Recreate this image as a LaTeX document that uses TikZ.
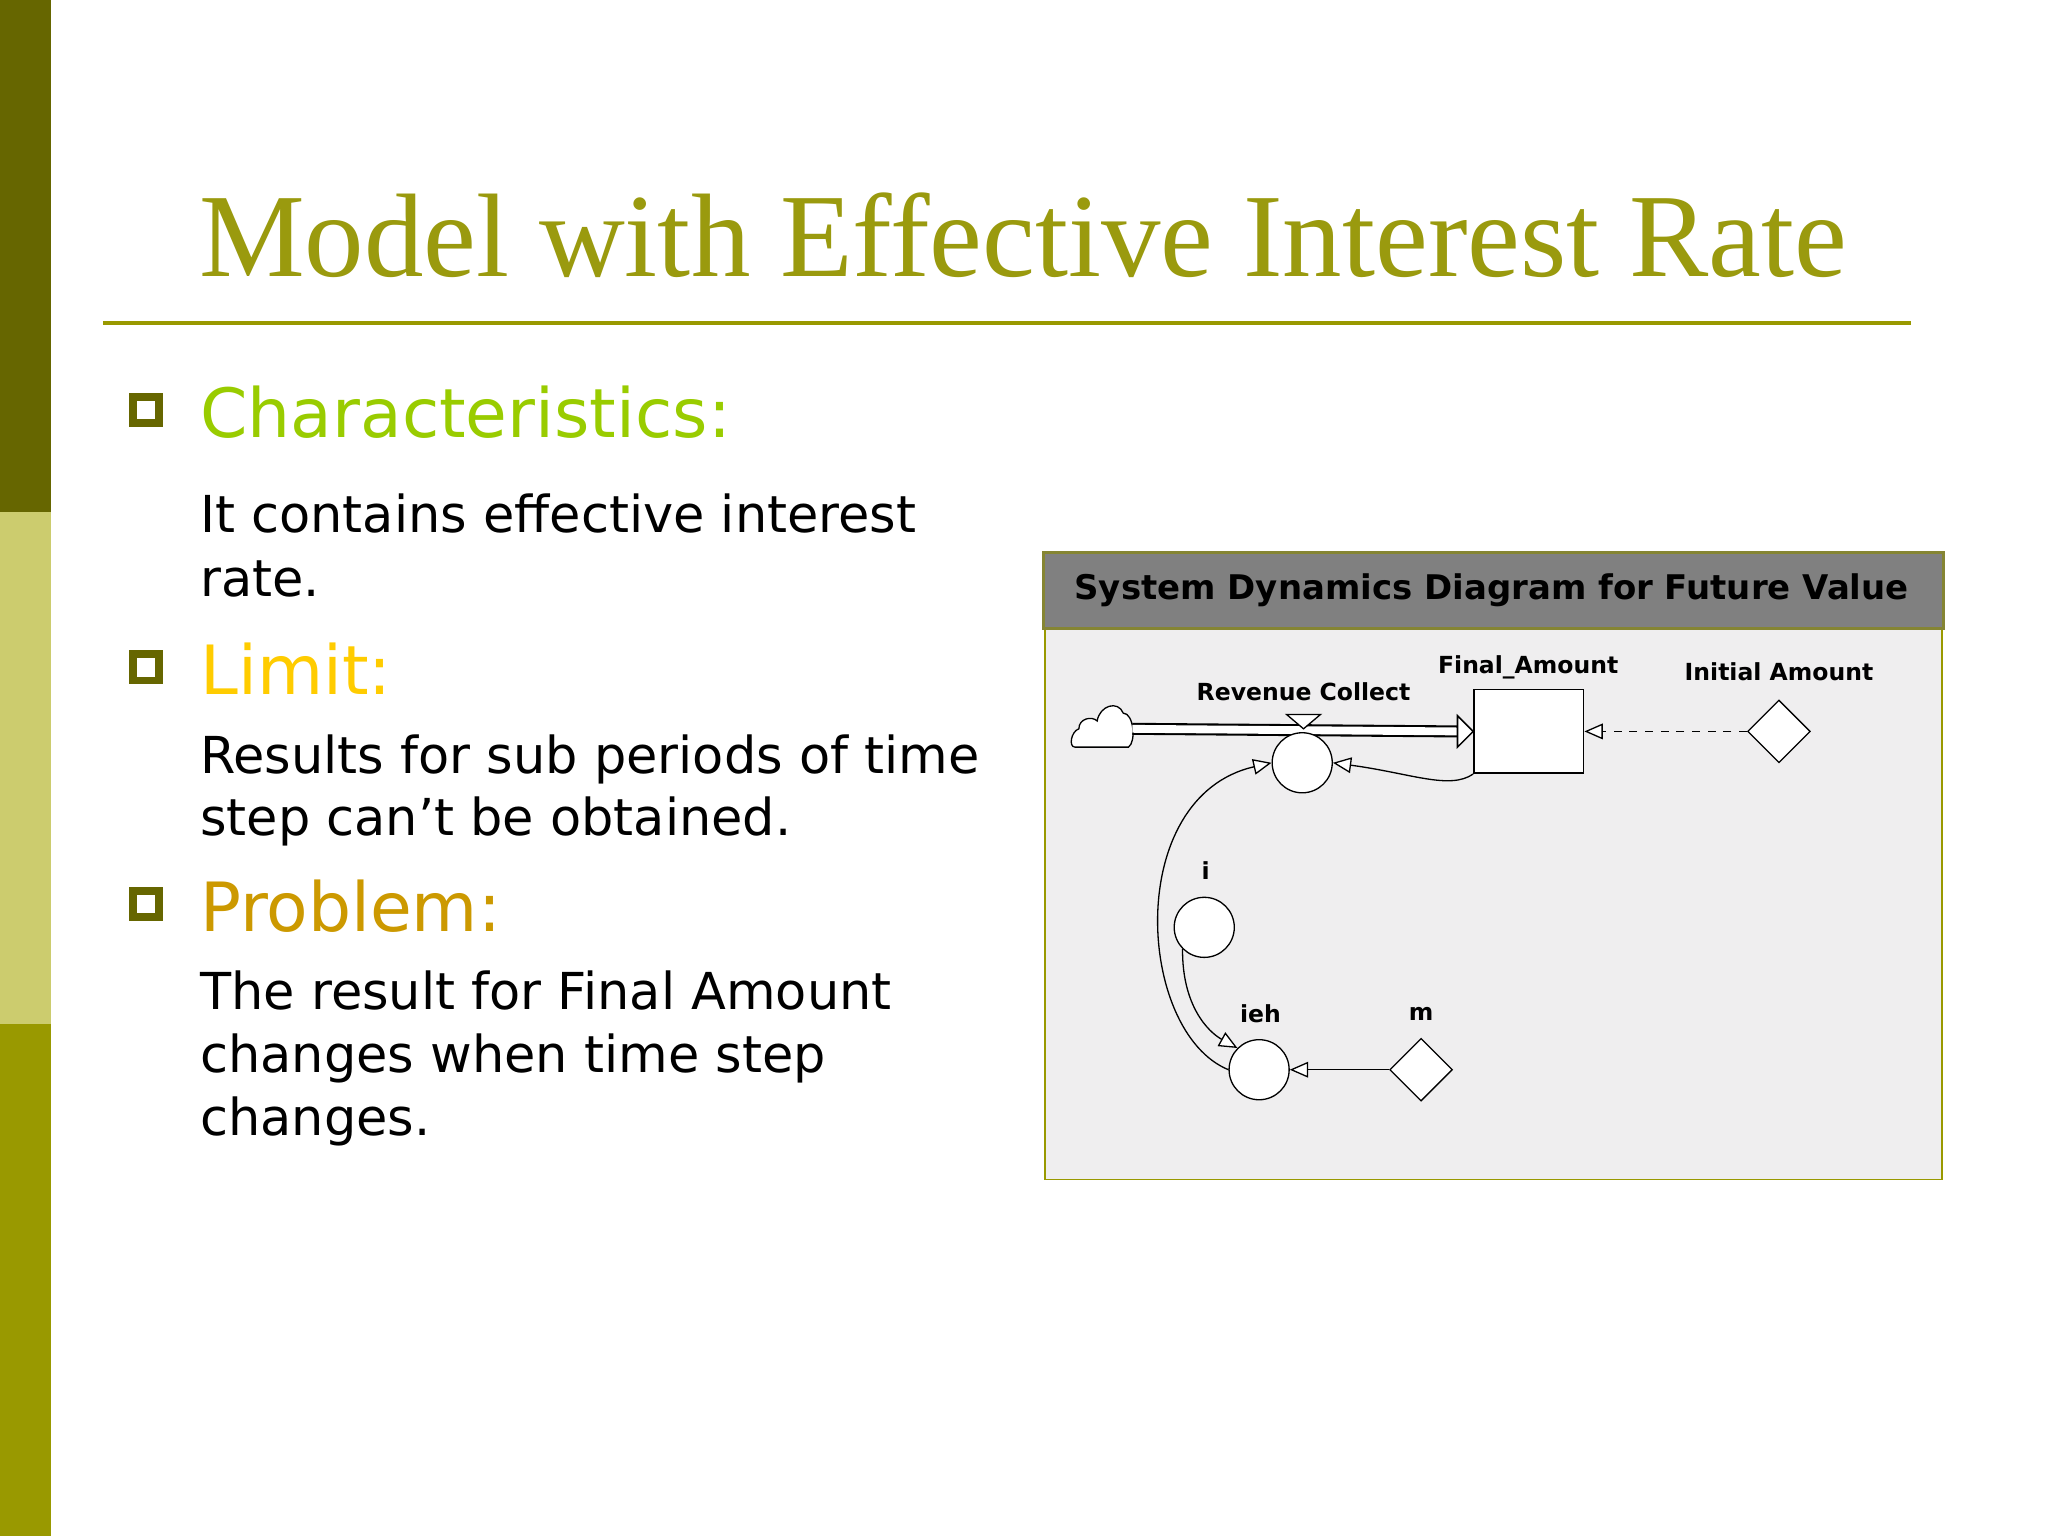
\documentclass[tikz,border=0pt]{standalone}
\usepackage{fontspec}
\setmainfont{DejaVu Sans}
\newfontfamily\titlefont{Liberation Serif}
\usetikzlibrary{arrows.meta,shapes.geometric}
\definecolor{oliveA}{HTML}{666600}
\definecolor{oliveB}{HTML}{CCCC6E}
\definecolor{oliveC}{HTML}{999900}
\definecolor{titlec}{HTML}{9A9A0E}
\definecolor{charc}{HTML}{99CC00}
\definecolor{limc}{HTML}{FFCC00}
\definecolor{probc}{HTML}{CC9900}
\definecolor{diagbg}{HTML}{EFEEEF}
\tikzset{
  head/.style={anchor=base west,font=\fontsize{26}{27}\selectfont},
  body/.style={anchor=base west,font=\fontsize{19.5}{20}\selectfont,text=black},
  bul/.style={draw=oliveA,line width=3pt,fill=white,minimum size=10pt,inner sep=0pt},
  lbl/.style={font=\bfseries\fontsize{9}{10}\selectfont,anchor=base},
  aux/.style={draw,fill=white,ellipse,minimum width=23pt,minimum height=23pt,inner sep=0pt,line width=0.5pt},
  cst/.style={draw,fill=white,diamond,minimum width=24pt,minimum height=24pt,inner sep=0pt,line width=0.5pt},
  link/.style={line width=0.5pt,-{Triangle[open,length=7pt,width=6pt,fill=white]}},
}
\begin{document}
\begin{tikzpicture}[x=0.5pt,y=-0.5pt]
\useasboundingbox (0,0) rectangle (1568,1176);
\fill[white] (0,0) rectangle (1568,1176);
\fill[oliveA] (0,0) rectangle (39,392);
\fill[oliveB] (0,392) rectangle (39,784);
\fill[oliveC] (0,784) rectangle (39,1176);
\node[anchor=base west,text=titlec,font=\titlefont\fontsize{45.5}{46}\selectfont,inner sep=0pt] (title) at (152,212) {Model with Effective Interest Rate};
\draw[oliveC,line width=1.5pt] (79,247) coordinate (tl) -- (1463,247) coordinate (tr);
\node[bul] (b1) at (112,314) {};
\node[bul] (b2) at (112,511) {};
\node[bul] (b3) at (112,692) {};
\node[head,text=charc,inner sep=0pt] (h1) at (153,335) {Characteristics:};
\node[head,text=limc,inner sep=0pt] (h2) at (153,532) {Limit:};
\node[head,text=probc,inner sep=0pt] (h3) at (153,713) {Problem:};
\node[body,inner sep=0pt] (t1) at (153,408) {It contains effective interest};
\node[body,inner sep=0pt] (t2) at (153,457) {rate.};
\node[body,inner sep=0pt] (t3) at (153,592) {Results for sub periods of time};
\node[body,inner sep=0pt] (t4) at (153,640) {step can’t be obtained.};
\node[body,inner sep=0pt] (t5) at (153,773) {The result for Final Amount};
\node[body,inner sep=0pt] (t6) at (153,821) {changes when time step};
\node[body,inner sep=0pt] (t7) at (153,869) {changes.};
% diagram frame
\draw[oliveC,fill=diagbg,line width=0.6pt] (800,482) rectangle (1487,903);
\draw[oliveA!80,fill=black!50,line width=1.2pt] (799,423) rectangle (1488,481);
\node[font=\bfseries\fontsize{13}{14}\selectfont] (hdr) at (1142,452) {System Dynamics Diagram for Future Value};
% cloud
\draw[fill=white,line width=0.5pt] (823,572) .. controls (818,572) and (820,560) .. (826,558)
  .. controls (826,550) and (836,548) .. (840,552)
  .. controls (842,540) and (856,536) .. (860,546)
  .. controls (868,546) and (870,568) .. (864,572) -- cycle;
\coordinate (cl) at (867,558);
% stock
\node[draw,fill=white,minimum width=42pt,minimum height=32pt,inner sep=0pt,line width=0.6pt] (fa) at (1170.5,560) {};
\node[lbl] (falbl) at (1170,516) {Final\_Amount};
% pipe
\draw[double distance=3pt,line width=0.8pt] (cl) -- ([xshift=-6pt]fa.west);
\draw[fill=white,line width=0.6pt] ([xshift=-6pt,yshift=6pt]fa.west) -- (fa.west) -- ([xshift=-6pt,yshift=-6pt]fa.west) -- cycle;
% rate
\node[aux] (rc) at (997,584) {};
\draw[fill=white,line width=0.5pt] (985,547) -- (1011,547) -- (998,558) -- cycle;
\node[lbl] (rclbl) at (998,536) {Revenue Collect};
% initial amount
\node[cst] (ia) at (1362,560) {};
\node[lbl] (ialbl) at (1362,521) {Initial Amount};
\draw[link,dashed] (ia) -- (fa);
% auxiliaries
\node[aux] (i) at (922,710) {};
\node[lbl] (ilbl) at (923,673) {i};
\node[aux] (ieh) at (964,819) {};
\node[lbl] (iehlbl) at (965,783) {ieh};
\node[cst] (m) at (1088,819) {};
\node[lbl] (mlbl) at (1088,781) {m};
% links
\draw[link] (m) -- (ieh);
\draw[link] (fa.south west) .. controls (1110,605) and (1080,592) .. (rc.east);
\draw[link] (i.south west) .. controls (905,770) and (925,790) .. (ieh.north west);
\draw[link] (ieh.west) .. controls (870,790) and (860,610) .. (rc.west);
\end{tikzpicture}
\end{document}
